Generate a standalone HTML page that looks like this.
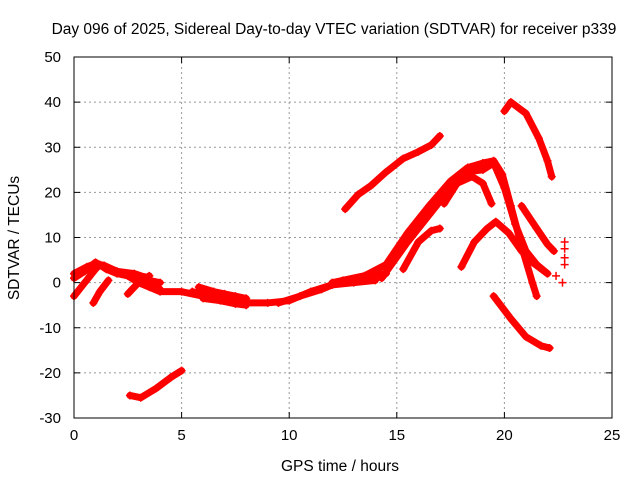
<!DOCTYPE html>
<html><head><meta charset="utf-8"><style>
body{margin:0;background:#fff}
svg{display:block;font-family:"Liberation Sans",sans-serif}
</style></head><body>
<svg id="chart" width="640" height="480">
<rect width="640" height="480" fill="#fff"/>
<text x="334" y="34" font-size="15.5" text-anchor="middle">Day 096 of 2025, Sidereal Day-to-day VTEC variation (SDTVAR) for receiver p339</text>
<text x="340" y="471" font-size="15.5" text-anchor="middle">GPS time / hours</text>
<text x="19" y="238" font-size="15.5" text-anchor="middle" transform="rotate(-90 19 238)">SDTVAR / TECUs</text>
<g id="grid"></g><g id="series"></g><g id="axes"></g>
</svg>
<script>
const xTicks=[0,5,10,15,20,25];
const yTicks=[-30,-20,-10,0,10,20,30,40,50];
const s1=[[12.6,16.3],[13.2,19.5],[13.8,21.5],[14.5,24.5],[15.3,27.5],[16,29],[16.6,30.5],[17,32.5]];
const s2=[[12,0],[13.5,1.5],[14.5,4],[15.5,11],[16.5,17],[17.5,22.5],[18.3,25.5],[19,26.5],[19.5,27],[19.9,24],[20.3,17],[20.8,8],[21.3,0],[21.5,-3]];
const s3=[[14.3,1],[15.5,9],[16.5,15],[17.5,21],[18.2,24.5],[19,25],[19.5,26.5],[20,21],[20.5,13],[21,7],[21.5,4],[22,2]];
const s4=[[17.2,17.5],[17.8,22],[18.5,23.5],[19,22],[19.4,17.5]];
const s5=[[15.3,3],[16,9],[16.6,11.5],[17,12]];
const s6=[[18,3.5],[18.6,9],[19.2,12],[19.6,13.5],[20.2,11],[20.8,7],[21.3,4.5],[22,2]];
const s7=[[20,38],[20.3,40],[21,37.5],[21.6,32],[22,27],[22.2,23.5]];
const s8=[[20.8,17],[21.5,12],[22,8.5],[22.3,7]];
const s9=[[19.5,-3],[20.3,-8],[21,-12],[21.7,-14],[22.1,-14.5]];
const s10=[[2.6,-25],[3.1,-25.5],[3.8,-23.5],[4.5,-21],[5,-19.5]];
const s11=[[0,-3],[0.5,0],[1,3],[1.2,4],[1.5,3],[2,2],[2.5,1.5],[3,0],[3.5,-1],[4,-2],[5,-2],[6,-3],[7,-4],[8,-4.5],[9,-4.5],[10,-4],[11,-2],[12,-0.5],[13,0],[14,0.5]];
const s12=[[0,1],[0.5,2.5],[1,4.5],[1.5,3],[2,2.5],[3,1],[3.5,0.5],[4,0]];
const s13=[[0.9,-4.5],[1.2,-2],[1.6,0.5]];
const s14=[[2.5,-2.5],[3,0],[3.5,1.5]];
const s15=[[5.5,-2],[6.5,-3],[7.5,-3.5],[8,-4]];
const s16=[[9.5,-4.5],[10.5,-3],[11.5,-1.5],[12.5,0.5],[13.5,1.5],[14.5,2]];
const s17=[[5.8,-1],[6.5,-2],[7,-2.5],[7.5,-3],[8,-3.5]];
const s18=[[6,-3.5],[6.8,-4],[7.5,-4.7],[8,-5]];
const s19=[[0,2],[0.6,3.5],[1,4.2],[1.4,3.8],[2,2.5],[2.8,2],[3.3,1.2],[4,-1.5]];
const dots=[[22.8,9],[22.8,7.5],[22.8,5.5],[22.8,4],[22.7,0],[22.4,1.5]];
const allSeries=[s1,s2,s3,s4,s5,s6,s7,s8,s9,s10,s11,s12,s13,s14,s15,s16,s17,s18,s19];
const L=74,R=612,T=57,B=418,x0=0,x1=25,y0=-30,y1=50;
const X=v=>L+(v-x0)/(x1-x0)*(R-L);
const Y=v=>B-(v-y0)/(y1-y0)*(B-T);
const NS="http://www.w3.org/2000/svg";
function mk(t,a,p){const e=document.createElementNS(NS,t);for(const k in a)e.setAttribute(k,a[k]);p.appendChild(e);return e;}
const grid=document.getElementById('grid'),ser=document.getElementById('series'),ax=document.getElementById('axes');
xTicks.forEach(t=>{
 if(t>x0&&t<x1){const g=mk('line',{x1:X(t),x2:X(t),y1:T,y2:B,stroke:'#999','stroke-dasharray':'2,3'},grid);
 
 }
 mk('line',{x1:X(t),x2:X(t),y1:B,y2:B-6,stroke:'#000'},ax);
 mk('line',{x1:X(t),x2:X(t),y1:T,y2:T+6,stroke:'#000'},ax);
 const tx=mk('text',{x:X(t),y:B+22,'font-size':15,'text-anchor':'middle'},ax);tx.textContent=t;
 
 
});
yTicks.forEach(t=>{
 if(t>y0&&t<y1){const g=mk('line',{x1:L,x2:R,y1:Y(t),y2:Y(t),stroke:'#999','stroke-dasharray':'2,3'},grid);
 
 }
 mk('line',{x1:L,x2:L+6,y1:Y(t),y2:Y(t),stroke:'#000'},ax);
 mk('line',{x1:R,x2:R-6,y1:Y(t),y2:Y(t),stroke:'#000'},ax);
 const tx=mk('text',{x:L-13,y:Y(t)+5,'font-size':15,'text-anchor':'end'},ax);tx.textContent=t;
 
 
});
const box=mk('rect',{x:L,y:T,width:R-L,height:B-T,fill:'none',stroke:'#000'},ax);


function plus(x,y,p){mk('path',{d:`M${x-4},${y}h8M${x},${y-4}v8`,stroke:'#f00','stroke-width':1.5},p);}
allSeries.forEach((s,i)=>{
 const g=mk('g',{},ser);
 
 
 mk('polyline',{points:s.map(p=>X(p[0])+','+Y(p[1])).join(' '),fill:'none',stroke:'#f00','stroke-width':7,'stroke-linejoin':'round','stroke-linecap':'round'},g);
 s.forEach(p=>plus(X(p[0]),Y(p[1]),g));
});
const dg=mk('g',{},ser);


dots.forEach(p=>plus(X(p[0]),Y(p[1]),dg));
</script>
</body></html>
